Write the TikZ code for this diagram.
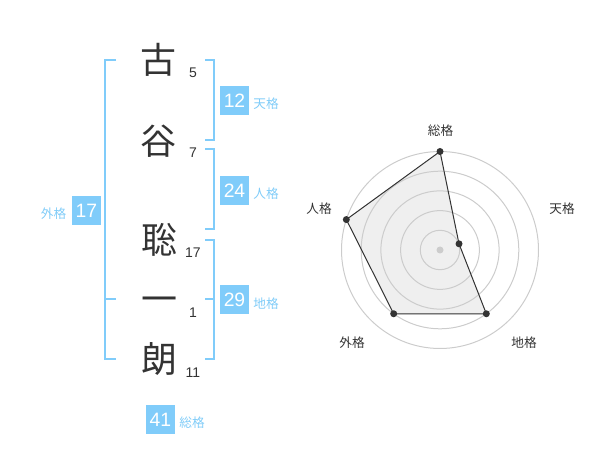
\documentclass[tikz,border=0pt]{standalone}
\usepackage{fontspec}
\usetikzlibrary{calc}
\setmainfont{Liberation Sans}
\newfontfamily\jp{Noto Sans CJK JP}
\definecolor{accent}{HTML}{80CCFA}
\definecolor{labelc}{HTML}{80CCF8}
\definecolor{ink}{HTML}{333333}
\definecolor{ringc}{HTML}{CCCCCC}
\definecolor{areac}{HTML}{EFEFEF}
\begin{document}
\begin{tikzpicture}[x=0.75pt,y=-0.75pt,
  kanji/.style={font=\jp\fontsize{27}{27}\selectfont, text=ink, inner sep=0pt, text height=23.8pt, text depth=3.2pt},
  strokes/.style={font=\fontsize{10.5}{10.5}\selectfont, text=ink, inner sep=0pt},
  valbox/.style={fill=accent, text=white, minimum width=21.75pt, minimum height=21.75pt, inner sep=0pt, font=\fontsize{14.5}{14.5}\selectfont},
  kaku/.style={font=\jp\fontsize{9.5}{9.5}\selectfont, text=labelc, inner sep=0pt, text height=8.4pt, text depth=1.1pt},
  brk/.style={accent, line width=1.5pt},
  ring/.style={ringc, line width=0.75pt},
  axislabel/.style={font=\jp\fontsize{9.5}{9.5}\selectfont, text=ink, inner sep=0pt, text height=8.4pt, text depth=1.1pt},
  dot/.style={circle, fill=ink, inner sep=0pt, minimum size=5.25pt}]
\useasboundingbox (0,0) rectangle (600,470);

% name characters
\node[kanji] (k1) at (158,60) {古};
\node[kanji] (k2) at (158,141) {谷};
\node[kanji] (k3) at (159,240) {聡};
\node[kanji] (k4) at (159,299) {一};
\node[kanji] (k5) at (159,359) {朗};

% stroke counts
\node[strokes] (s1) at (193,73) {5};
\node[strokes] (s2) at (193,153) {7};
\node[strokes] (s3) at (193,253) {17};
\node[strokes] (s4) at (193,313) {1};
\node[strokes] (s5) at (193,373) {11};

% brackets
\draw[brk] (116,60) -- (105,60) -- (105,359.5) -- (116,359.5);
\draw[brk] (105,299.5) -- (116,299.5);
\draw[brk] (205,60) -- (214,60) -- (214,140) -- (205,140);
\draw[brk] (205,149.5) -- (214,149.5) -- (214,229.5) -- (205,229.5);
\draw[brk] (205,240) -- (214,240) -- (214,359.5) -- (205,359.5);
\draw[brk] (205,299.5) -- (214,299.5);

% value boxes and labels
\node[valbox] (ten) at (234.5,100.3) {12};
\node[kaku] (tenl) at (266,104) {天格};
\node[valbox] (jin) at (234.5,190.4) {24};
\node[kaku] (jinl) at (266,194) {人格};
\node[valbox] (gai) at (86.5,211) {17};
\node[kaku] (gail) at (53.5,214) {外格};
\node[valbox] (chi) at (234.5,299.5) {29};
\node[kaku] (chil) at (266,304) {地格};
\node[valbox] (sou) at (160.5,419.4) {41};
\node[kaku] (soul) at (192,423) {総格};

% radar chart
\coordinate (c) at (440,250);
\coordinate (pS) at ($(c)+(-90:98.5)$);
\coordinate (pT) at ($(c)+(-18:20)$);
\coordinate (pC) at ($(c)+(54:78.8)$);
\coordinate (pG) at ($(c)+(126:78.8)$);
\coordinate (pJ) at ($(c)+(198:98.5)$);
\fill[areac] (pS) -- (pT) -- (pC) -- (pG) -- (pJ) -- cycle;
\foreach \r in {19.7,39.4,59.1,78.8,98.5}
  \draw[ring] (c) circle[radius=\r];
\fill[ringc] (c) circle[radius=3.5];
\draw[ink, line width=0.75pt] (pS) -- (pT) -- (pC) -- (pG) -- (pJ) -- cycle;
\foreach \p in {pS,pT,pC,pG,pJ}
  \node[dot] at (\p) {};
\node[axislabel] (aS) at (440.5,130.5) {総格};
\node[axislabel] (aT) at (562,209) {天格};
\node[axislabel] (aC) at (524,342.5) {地格};
\node[axislabel] (aG) at (352,342.5) {外格};
\node[axislabel] (aJ) at (319,209) {人格};
\end{tikzpicture}
\end{document}
